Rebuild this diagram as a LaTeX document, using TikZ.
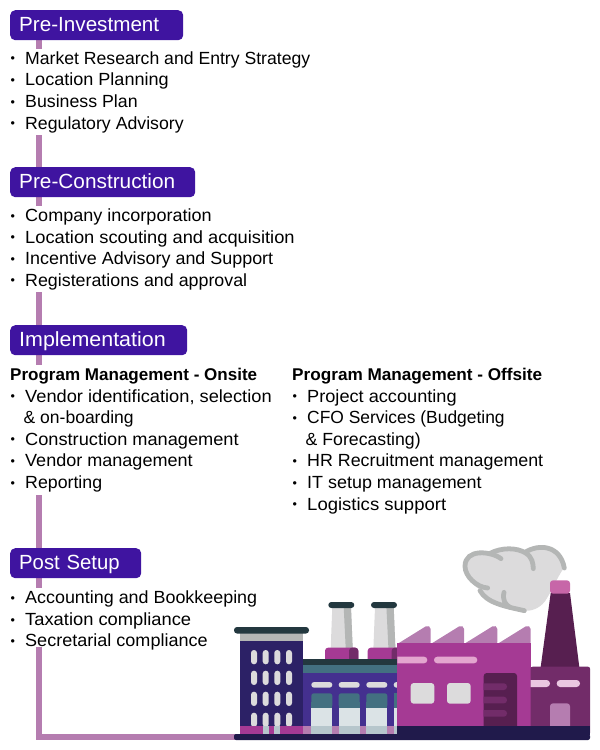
\documentclass[tikz,border=0pt]{standalone}
\usepackage{graphicx}
\usepackage{fontspec}
\setmainfont{Liberation Sans}
\definecolor{hdr}{HTML}{3F14A0}
\definecolor{spinec}{HTML}{B57DB0}
\definecolor{navy}{HTML}{2C2166}
\definecolor{ground}{HTML}{201A4B}
\definecolor{slate}{HTML}{23383F}
\definecolor{teal1}{HTML}{437081}
\definecolor{purp}{HTML}{44308F}
\definecolor{mag}{HTML}{A53A94}
\definecolor{plum}{HTML}{722C69}
\definecolor{dplum}{HTML}{571F50}
\definecolor{lgrey}{HTML}{DCDBDC}
\definecolor{mgrey}{HTML}{B4B6B5}
\definecolor{glass}{HTML}{DBE3E6}
\definecolor{glass2}{HTML}{B6C6CC}
\definecolor{pink1}{HTML}{E3A6CF}
\definecolor{pink2}{HTML}{EAC7E1}
\definecolor{pink3}{HTML}{C766A8}
\newcommand{\lstrut}{\rule[-6.1pt]{0pt}{21.6pt}}
\newcommand{\fitl}[2]{\resizebox{#1pt}{\height}{#2}}
\newcommand{\bul}[2]{\lstrut\makebox[15pt][l]{\hspace{0.5pt}\raisebox{1.3pt}{\fontsize{12.5}{12.5}\selectfont•}}\fitl{#1}{#2}}
\newcommand{\cont}[2]{\lstrut\hspace{13.5pt}\fitl{#1}{#2}}
\newcommand{\hl}[2]{\lstrut\fitl{#1}{\fontsize{17}{21.6}\selectfont\textbf{#2}}}
\tikzset{
  hbox/.style={fill=hdr,rounded corners=5pt,text=white,anchor=north west,inner xsep=9pt,inner ysep=0pt,minimum height=30pt,text height=14pt,text depth=2pt,align=left,font=\fontsize{20.5}{24}\selectfont},
  blist/.style={fill=white,anchor=north west,inner sep=0pt,align=left,font=\fontsize{17.6}{21.6}\selectfont},
  spine/.style={draw=spinec,line width=6pt},
  winpill/.style={fill=lgrey,rounded corners=2.9pt},
  puff/.style={draw=mgrey,line width=4.8pt,line cap=round}
}
\begin{document}
\begin{tikzpicture}[x=1pt,y=-1pt]
\useasboundingbox (0,0) rectangle (600,750);
\coordinate (s1) at (39,25);
\coordinate (s2) at (39,182);
\coordinate (s3) at (39,340);
\coordinate (s4) at (39,563);
\coordinate (s4b) at (39,650);
\coordinate (s5) at (39,736.7);
\coordinate (s6) at (240,736.7);
\draw[spine] (s1) -- (s2);
\draw[spine] (s2) -- (s3);
\draw[spine] (s3) -- (s4);
\draw[spine] (s4) -- (s4b);
% lists
\node[blist] (l1) at (10,48.5) {\bul{285}{Market Research and Entry Strategy}\\\bul{143.5}{Location Planning}\\\bul{112.5}{Business Plan}\\\bul{158.5}{Regulatory Advisory}};
\node[blist] (l2) at (10,205.7) {\bul{186.5}{Company incorporation}\\\bul{269.5}{Location scouting and acquisition}\\\bul{248}{Incentive Advisory and Support}\\\bul{222}{Registerations and approval}};
\node[blist] (l3) at (10,364.7) {\hl{247}{Program Management - Onsite}\\\bul{246.5}{Vendor identification, selection}\\\cont{110}{\& on-boarding}\\\bul{213.5}{Construction management}\\\bul{167.5}{Vendor management}\\\bul{77}{Reporting}};
\node[blist] (l4) at (292,364.7) {\hl{250}{Program Management - Offsite}\\\bul{149.5}{Project accounting}\\\bul{197.5}{CFO Services (Budgeting}\\\cont{115}{\& Forecasting)}\\\bul{236}{HR Recruitment management}\\\bul{174.5}{IT setup management}\\\bul{139}{Logistics support}};
\node[blist] (l5) at (10,588) {\bul{232}{Accounting and Bookkeeping}\\\bul{166}{Taxation compliance}\\\bul{182.5}{Secretarial compliance}};
\draw[spine,line cap=rect] (s4b) -- (s5) -- (s6);
% header boxes
\node[hbox,text width=155pt] (h1) at (10,10) {\fitl{140}{Pre-Investment}};
\node[hbox,text width=167pt] (h2) at (10,167) {\fitl{156}{Pre-Construction}};
\node[hbox,text width=159pt] (h3) at (10,325) {\fitl{146.5}{Implementation}};
\node[hbox,text width=113pt] (h4) at (10,548) {\fitl{100.5}{Post Setup}};
% ---- factory ----
% cloud
\begin{scope}[shift={(455pt,-538pt)},x=0.3333pt,y=-0.3333pt]
\fill[lgrey] (30,85) .. controls (30,50) and (70,35) .. (105,48) .. controls (140,30) and (185,30) .. (212,42) .. controls (250,22) and (310,20) .. (328,88) .. controls (305,120) and (290,160) .. (270,190) .. controls (250,215) and (225,220) .. (205,218) .. controls (150,210) and (95,195) .. (75,155) .. controls (50,140) and (30,115) .. (30,85) -- cycle;
\draw[puff] (138,62) .. controls (110,40) and (30,30) .. (30,85) .. controls (30,115) and (65,148) .. (98,150);
\draw[puff] (75,158) .. controls (95,195) and (150,205) .. (208,218);
\draw[puff] (147,163) .. controls (142,185) and (150,200) .. (165,208);
\draw[puff] (105,46) .. controls (140,28) and (185,28) .. (212,45) .. controls (232,58) and (234,75) .. (235,92);
\draw[puff] (212,42) .. controls (250,18) and (315,20) .. (328,90);
\end{scope}
% chimneys
\foreach \d in {0,42.7}{
  \fill[lgrey] (332.3+\d,607) -- (351+\d,607) -- (352.7+\d,648) -- (330.7+\d,648) -- cycle;
  \fill[mgrey] (343.7+\d,607) -- (351+\d,607) -- (352.7+\d,648) -- (345.7+\d,648) -- cycle;
  \fill[slate,rounded corners=3pt] (328.3+\d,602) rectangle (354.3+\d,608);
  \fill[mag,rounded corners=3pt] (325+\d,662) -- (325+\d,647.7) -- (358.3+\d,647.7) -- (358.3+\d,662) -- cycle;
  \fill[plum,rounded corners=3pt] (349+\d,662) -- (349+\d,647.7) -- (358.3+\d,647.7) -- (358.3+\d,662) -- cycle;
  \fill[plum] (349+\d,652) rectangle (353+\d,662);
}
% left tower
\fill[mgrey] (240,633) rectangle (303,641);
\fill[slate,rounded corners=3pt] (234,627) rectangle (309,633.5);
\fill[navy] (240,640.7) rectangle (303,727);
\foreach \x in {251,262.7,274.3,286}{
  \foreach \y in {650,670.7,691.7,712.7}{
    \fill[winpill] (\x,\y) rectangle +(6,14.3);
  }
}
\fill[mag] (240,726) rectangle (303,735);
\fill[glass2] (262.7,726) rectangle (268.7,735);
\fill[glass2] (274.3,726) rectangle (280.3,735);
% middle block
\fill[slate] (303,659.3) rectangle (398,665.2);
\fill[teal1] (303,665) rectangle (398,673);
\fill[purp] (303,672.7) rectangle (398,735);
\fill[spinec] (303,726.3) rectangle (398,735);
\foreach \x in {311.3,338.7,366.3}{
  \fill[lgrey,rounded corners=2.8pt] (\x,682) rectangle +(21,5.7);
  \fill[glass] (\x,705) rectangle +(21,30);
  \fill[teal1,rounded corners=2.5pt] (\x,707.7) -- (\x,693.3) -- (\x+21,693.3) -- (\x+21,707.7) -- cycle;
  \fill[teal1] (\x,702) rectangle +(21,5.7);
  \fill[glass2] (\x,726.3) rectangle +(21,8.7);
}
\fill[lgrey,rounded corners=2.8pt] (393.7,682) rectangle +(10,5.7);
\fill[glass] (393.7,705) rectangle (398,735);
\fill[teal1] (393.7,693.3) rectangle (398,707.7);
\fill[glass2] (393.7,726.3) rectangle (398,735);
% sawtooth roof
\foreach \x in {397.3,430.7,464,497.3}{
  \fill[spinec,rounded corners=2pt] (\x,644) -- (\x+30,625.4) -- (\x+33.4,627) -- (\x+33.4,644) -- cycle;
}
% big hall
\fill[mag] (397.3,643.3) rectangle (530.7,727);
\begin{scope}
  \clip (397.3,650) rectangle (530,670);
  \fill[pink1,rounded corners=3.2pt] (380,656.7) rectangle (427.3,663.3);
\end{scope}
\fill[pink1,rounded corners=3.2pt] (434,656.7) rectangle (477.3,663.3);
\fill[lgrey,rounded corners=3pt] (410.7,683) rectangle (434.3,703.7);
\fill[lgrey,rounded corners=3pt] (447,683) rectangle (470.7,703.7);
\fill[dplum,rounded corners=3pt] (483.7,735) -- (483.7,673) -- (517,673) -- (517,735) -- cycle;
\begin{scope}
  \clip (483.7,673) rectangle (517,727);
  \foreach \y in {683.3,696.7,710}{
    \fill[plum,rounded corners=3.2pt] (470,\y) rectangle (507,\y+6.7);
  }
\end{scope}
% stack
\fill[dplum] (550.7,593) -- (570,593) -- (579.3,667) -- (540.7,667) -- cycle;
\fill[pink3,rounded corners=3pt] (550,593.7) -- (550,580.3) -- (570,580.3) -- (570,593.7) -- cycle;
% right building
\fill[plum,rounded corners=2pt] (530.7,735) -- (530.7,666.7) -- (590,666.7) -- (590,735) -- cycle;
\fill[plum] (530.7,666.7) rectangle (540,680);
\begin{scope}
  \clip (530.7,675) rectangle (590,690);
  \fill[pink2,rounded corners=3.4pt] (515,680) rectangle (550,687);
\end{scope}
\fill[pink2,rounded corners=3.4pt] (556.7,680) rectangle (580,687);
\fill[spinec,rounded corners=3pt] (550,735) -- (550,703.3) -- (570,703.3) -- (570,735) -- cycle;
% ground
\fill[ground] (397.3,726.3) rectangle (590,735);
\fill[ground,rounded corners=2pt] (234,734) rectangle (590,740);
\end{tikzpicture}
\end{document}
